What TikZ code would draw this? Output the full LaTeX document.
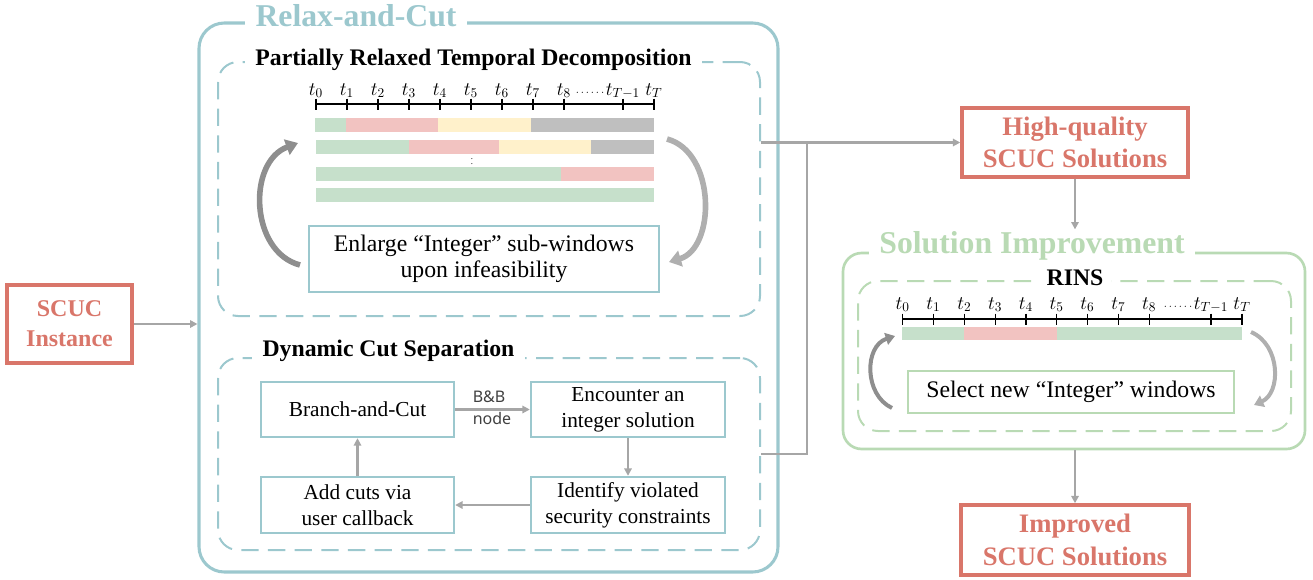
\documentclass[tikz,border=0pt]{standalone}
\usepackage{fontspec}
\setmainfont{Liberation Serif}
\newfontfamily\sansf{Noto Sans}
\usetikzlibrary{arrows.meta}
\definecolor{tealc}{HTML}{9CC8CE}
\definecolor{redc}{HTML}{D9766A}
\definecolor{greenc}{HTML}{B9DAB4}
\definecolor{barG}{HTML}{C6E0CB}
\definecolor{barP}{HTML}{F2C3C1}
\definecolor{barY}{HTML}{FFF1CB}
\definecolor{barK}{HTML}{BFBFBF}
\definecolor{connc}{HTML}{A6A6A6}
\definecolor{arrD}{HTML}{8E8E8E}
\definecolor{arrL}{HTML}{AFAFAF}
\definecolor{labc}{HTML}{404040}
\newcommand\fsbig{\fontsize{23.8}{26}\selectfont}
\newcommand\fssub{\fontsize{17.8}{20}\selectfont}
\newcommand\fsbody{\fontsize{17.8}{19.5}\selectfont}
\newcommand\fsdcs{\fontsize{16}{19.5}\selectfont}
\newcommand\fsred{\fontsize{20}{24.5}\selectfont}
\newcommand\fsin{\fontsize{18}{22.5}\selectfont}
\newcommand\fstl{\fontsize{14.5}{16}\selectfont}
\newcommand\fsdots{\fontsize{8.5}{9}\selectfont}
\begin{document}
\begin{tikzpicture}[x=0.75pt,y=-0.75pt,
  outerbox/.style={draw, line width=2.3pt, rounded corners=19pt, inner sep=0pt},
  dbox/.style={draw, line width=1.5pt, dash pattern=on 13pt off 7pt, rounded corners=15pt, inner sep=0pt},
  tbox/.style={draw=tealc, line width=1.8pt, fill=white, align=center, inner sep=0pt},
  gbox/.style={draw=greenc, line width=1.8pt, fill=white, align=center, inner sep=0pt},
  redbox/.style={draw=redc, line width=2.6pt, text=redc, font=\fsred\bfseries, align=center, inner sep=0pt},
  ttl/.style={fill=white, inner xsep=8pt, inner ysep=1pt, anchor=base},
  conn/.style={draw=connc, line width=1.8pt, -{Triangle[length=5.5pt,width=5.5pt]}},
  connl/.style={draw=connc, line width=1.8pt},
  tick/.style={draw=black, line width=0.9pt},
  tl/.style={anchor=base, inner sep=0pt, font=\fstl},
  dl/.style={anchor=base, inner sep=0pt, font=\fsdots},
  cyc/.style={line width=4.2pt, -{Triangle[length=9pt,width=12pt]}},
  cycs/.style={line width=3pt, -{Triangle[length=7pt,width=9pt]}}
]
\useasboundingbox (0,0) rectangle (1313,579);

% ---------- left input ----------
\node[redbox, font=\fsin\bfseries, minimum width=93.75pt, minimum height=58.5pt] (scuc) at (69.5,324) {SCUC\\Instance};

% ---------- Relax-and-Cut ----------
\node[outerbox, draw=tealc, minimum width=434.25pt, minimum height=411.75pt] (rc) at (488.5,297.5) {};
\node[ttl, text=tealc, font=\fsbig\bfseries] (rct) at (356,26) {Relax-and-Cut};

\node[dbox, draw=tealc, minimum width=406.5pt, minimum height=190.5pt] (prtd) at (489,189) {};
\node[ttl, font=\fssub\bfseries] (prtdt) at (473.5,65) {Partially Relaxed Temporal Decomposition};

\node[dbox, draw=tealc, minimum width=406.5pt, minimum height=144pt] (dcs) at (489,454) {};
\node[ttl, font=\fssub\bfseries] (dcst) at (388.5,356) {Dynamic Cut Separation};

% timeline 1
\draw[tick] (316,104) -- (654,104);
\foreach \i/\x in {0/316,1/347,2/378,3/409,4/440,5/471,6/502,7/533,8/564}{
  \draw[tick] (\x,98.5) -- (\x,109.5);
  \node[tl] (ta\i) at (\x,95) {$t_{\i}$};
}
\draw[tick] (623,98.5) -- (623,109.5);
\draw[tick] (654,98.5) -- (654,109.5);
\node[tl] (taTm) at (623,95) {$t_{T-1}$};
\node[tl] (taT) at (654,95) {$t_{T}$};
\node[dl] (tadots) at (590,95) {$\cdots\cdots$};

% bars 1
\fill[barG] (315,118) rectangle (346,132);
\fill[barP] (346,118) rectangle (438,132);
\fill[barY] (438,118) rectangle (531,132);
\fill[barK] (531,118) rectangle (654,132);
\fill[barG] (316,140) rectangle (409,154);
\fill[barP] (409,140) rectangle (499,154);
\fill[barY] (499,140) rectangle (591,154);
\fill[barK] (591,140) rectangle (654,154);
\node[inner sep=0pt, font=\fontsize{6.5}{6.5}\selectfont] (vd) at (472,160.5) {$\vdots$};
\fill[barG] (316,167) rectangle (561,181);
\fill[barP] (561,167) rectangle (654,181);
\fill[barG] (316,188) rectangle (654,202);

\node[tbox, font=\fsbody, minimum width=262.5pt, minimum height=49.5pt] (enl) at (484,259) {Enlarge ``Integer'' sub-windows\\upon infeasibility};

% cycle arrows 1
\draw[cyc, draw=arrD] (300,265) .. controls (250,252) and (247,162) .. (298,143);
\draw[cyc, draw=arrL] (667,139) .. controls (716,152) and (716,248) .. (669,262);

% DCS boxes
\node[tbox, font=\fsdcs, minimum width=144.75pt, minimum height=41.25pt] (bnc) at (357.5,409.5) {Branch-and-Cut};
\node[tbox, font=\fsdcs, minimum width=145.5pt, minimum height=41.25pt] (enc) at (628,409.5) {Encounter an\\integer solution};
\node[tbox, font=\fsdcs, minimum width=144.75pt, minimum height=42pt] (add) at (357.5,505) {Add cuts via\\user callback};
\node[tbox, font=\fsdcs, minimum width=145.5pt, minimum height=42pt] (idt) at (628,505) {Identify violated\\security constraints};

\draw[conn] (bnc.east) -- (enc.west);
\node[inner sep=0pt, align=left, text=labc, font=\sansf\fontsize{12}{16.5}\selectfont] (bbl) at (492,408) {B\&B\\node};
\draw[conn] (enc.south) -- (idt.north);
\draw[conn] (idt.west) -- (add.east);
\draw[conn] (add.north) -- (bnc.south);

% ---------- right side ----------
\node[redbox, minimum width=169.5pt, minimum height=51.75pt] (hq) at (1075,142.5) {High-quality\\SCUC Solutions};

\node[outerbox, draw=greenc, line width=2pt, rounded corners=14pt, minimum width=346.5pt, minimum height=147pt] (si) at (1074,351) {};
\node[ttl, text=greenc, font=\fsbig\bfseries] (sit) at (1032,253) {Solution Improvement};

\node[dbox, draw=greenc, minimum width=324.75pt, minimum height=112.5pt] (rins) at (1074.5,356) {};
\node[ttl, font=\fssub\bfseries, inner xsep=6pt] (rinst) at (1075,285) {RINS};

% timeline 2
\draw[tick] (902.7,319) -- (1242,319);
\foreach \i/\x in {0/902.7,1/933.5,2/964.3,3/995.1,4/1025.9,5/1056.7,6/1087.5,7/1118.3,8/1149.1}{
  \draw[tick] (\x,313.5) -- (\x,324.5);
  \node[tl] (tb\i) at (\x,309) {$t_{\i}$};
}
\draw[tick] (1211,313.5) -- (1211,324.5);
\draw[tick] (1242,313.5) -- (1242,324.5);
\node[tl] (tbTm) at (1211,309) {$t_{T-1}$};
\node[tl] (tbT) at (1242,309) {$t_{T}$};
\node[dl] (tbdots) at (1178,309) {$\cdots\cdots$};

\fill[barG] (902,327) rectangle (964,340);
\fill[barP] (964,327) rectangle (1057,340);
\fill[barG] (1057,327) rectangle (1242,340);

\node[gbox, font=\fsbody, minimum width=244.5pt, minimum height=31.5pt] (sel) at (1071,392) {Select new ``Integer'' windows};

\draw[cycs, draw=arrD] (892,408) .. controls (864,395) and (864,346) .. (895,336);
\draw[cycs, draw=arrL] (1251,332) .. controls (1281,345) and (1281,393) .. (1254,405);

\node[redbox, minimum width=171pt, minimum height=52.5pt] (imp) at (1075,540) {Improved\\SCUC Solutions};

% ---------- connectors ----------
\coordinate (j) at (807,142.5);
\draw[conn] (scuc.east) -- (scuc.east -| rc.west);
\draw[conn] (prtd.east |- hq.west) -- (hq.west);
\draw[connl] (dcs.east) -- (dcs.east -| j) -- (j);
\draw[conn] (hq.south) -- (hq.south |- sit.north);
\draw[conn] (si.south -| imp.north) -- (imp.north);
\end{tikzpicture}
\end{document}
